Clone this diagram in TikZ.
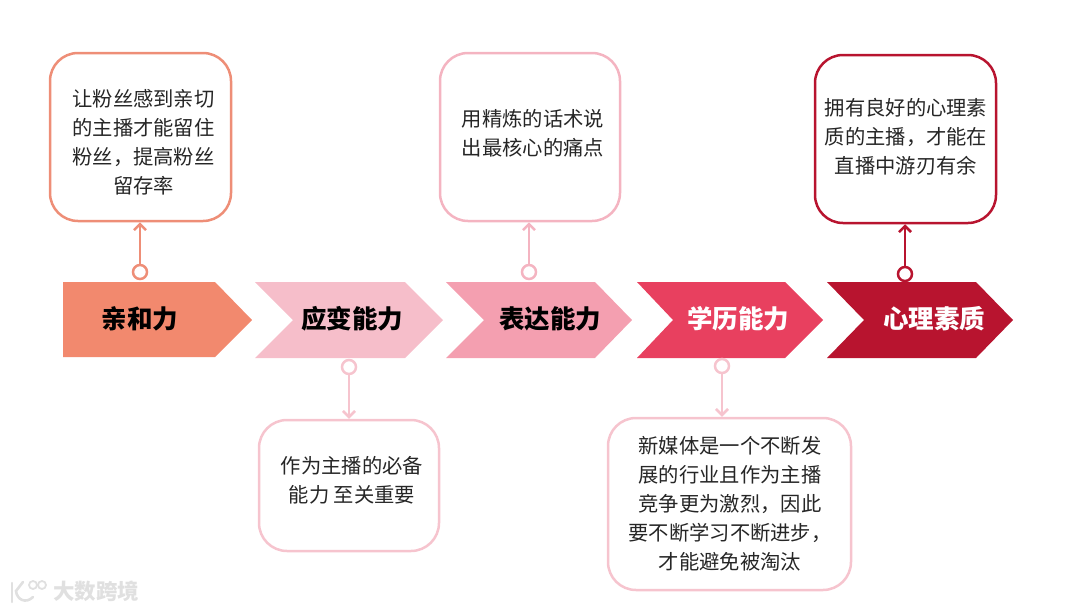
\documentclass[tikz,border=0pt]{standalone}
\usepackage{fontspec}
\setmainfont{Noto Sans CJK SC}
\usepackage{tikz}
\usetikzlibrary{positioning}
\usetikzlibrary{calc}
\usetikzlibrary{arrows.meta}
\definecolor{coral}{HTML}{F2896E}
\definecolor{coralline}{HTML}{EE8E77}
\definecolor{blush}{HTML}{F6BECA}
\definecolor{blushline}{HTML}{F6C4CE}
\definecolor{roseline}{HTML}{F4B4C1}
\definecolor{rose}{HTML}{F49FB0}
\definecolor{crimson}{HTML}{E8405F}
\definecolor{wine}{HTML}{B8142F}
\definecolor{brandgray}{HTML}{E0E0E0}
\tikzstyle{infobox}=[draw, fill=white, line width=2.5pt, rounded corners=28pt, inner sep=0pt]
\tikzstyle{infotext}=[align=center, text=black!85, font=\fontsize{20.3}{29}\selectfont]
\tikzstyle{steptext}=[font=\fontsize{25.5}{30}\selectfont\bfseries]
\tikzstyle{dot}=[circle, draw, fill=white, line width=2.5pt, minimum size=14pt, inner sep=0pt]
\tikzstyle{arrow}=[-{Straight Barb[length=6pt, width=12pt]}, line width=2.5pt]

\begin{document}
\begin{tikzpicture}[x=1pt, y=-1pt]
      \useasboundingbox (0,0) rectangle (1080,611);

      % chevrons
      \fill [coral] (63,282) -- (215,282) -- (252,320) -- (215,357) -- (63,357) -- cycle;
      \fill [blush] (255,282) -- (405,282) -- (443,320) -- (405,358) -- (255,358) -- (293,320) -- cycle;
      \fill [rose] (446,282) -- (595,282) -- (632,320) -- (595,358) -- (446,358) -- (484,320) -- cycle;
      \fill [crimson] (637,282) -- (785,282) -- (823,320) -- (785,358) -- (637,358) -- (673,320) -- cycle;
      \fill [wine] (827,282) -- (976,282) -- (1013,320) -- (976,358) -- (827,358) -- (864,320) -- cycle;

      \node [steptext] (step1) at (140,319) {亲和力};
      \node [steptext] (step2) at (352,319) {应变能力};
      \node [steptext] (step3) at (550,319) {表达能力};
      \node [steptext, text=white] (step4) at (738,319) {学历能力};
      \node [steptext, text=white] (step5) at (934,319) {心理素质};

      % boxes
      \node [infobox, draw=coralline, minimum width=181pt, minimum height=168pt] (box1) at (140.5,137) {};
      \node [infobox, draw=blushline, minimum width=180pt, minimum height=131pt] (box2) at (349,485.5) {};
      \node [infobox, draw=roseline, minimum width=180pt, minimum height=168pt] (box3) at (530,137) {};
      \node [infobox, draw=blushline, minimum width=243pt, minimum height=172pt] (box4) at (729.5,504) {};
      \node [infobox, draw=wine, minimum width=181pt, minimum height=168pt] (box5) at (905.5,139) {};

      \node [infotext] (text1) at (143.5,142) {让粉丝感到亲切\\的主播才能留住\\粉丝，提高粉丝\\留存率};
      \node [infotext] (text2) at (352,480) {作为主播的必备\\能力 至关重要};
      \node [infotext] (text3) at (533,133) {用精炼的话术说\\出最核心的痛点};
      \node [infotext] (text4) at (730,504) {新媒体是一个不断发\\展的行业且作为主播\\竞争更为激烈，因此\\要不断学习不断进步，\\才能避免被淘汰};
      \node [infotext] (text5) at (906,137) {拥有良好的心理素\\质的主播，才能在\\直播中游刃有余};

      % dots
      \node [dot, draw=coralline] (dot1) at (140,272) {};
      \node [dot, draw=blushline] (dot2) at (349,367) {};
      \node [dot, draw=roseline] (dot3) at (529,272) {};
      \node [dot, draw=blushline] (dot4) at (722,366) {};
      \node [dot, draw=wine] (dot5) at (905,274) {};

      \draw [arrow, coralline] (dot1) -- (dot1 |- box1.south);
      \draw [arrow, blushline] (dot2) -- (dot2 |- box2.north);
      \draw [arrow, roseline] (dot3) -- (dot3 |- box3.south);
      \draw [arrow, blushline] (dot4) -- (dot4 |- box4.north);
      \draw [arrow, wine] (dot5) -- (dot5 |- box5.south);

      % watermark
      \draw [brandgray, line width=2.6pt, line cap=round] (12,583) -- (12,602);
      \draw [brandgray, line width=2.6pt, line cap=round] (23,582) -- (16,591) .. controls (17,600) and (26,604) .. (33,597);
      \draw [brandgray, line width=1.8pt] (33,585) circle (4);
      \draw [brandgray, line width=1.8pt] (42,585) circle (4);
      \node [text=brandgray, font=\fontsize{21.5}{25}\selectfont\bfseries] (brand) at (96,591) {大数跨境};
    \end{tikzpicture}
\end{document}
